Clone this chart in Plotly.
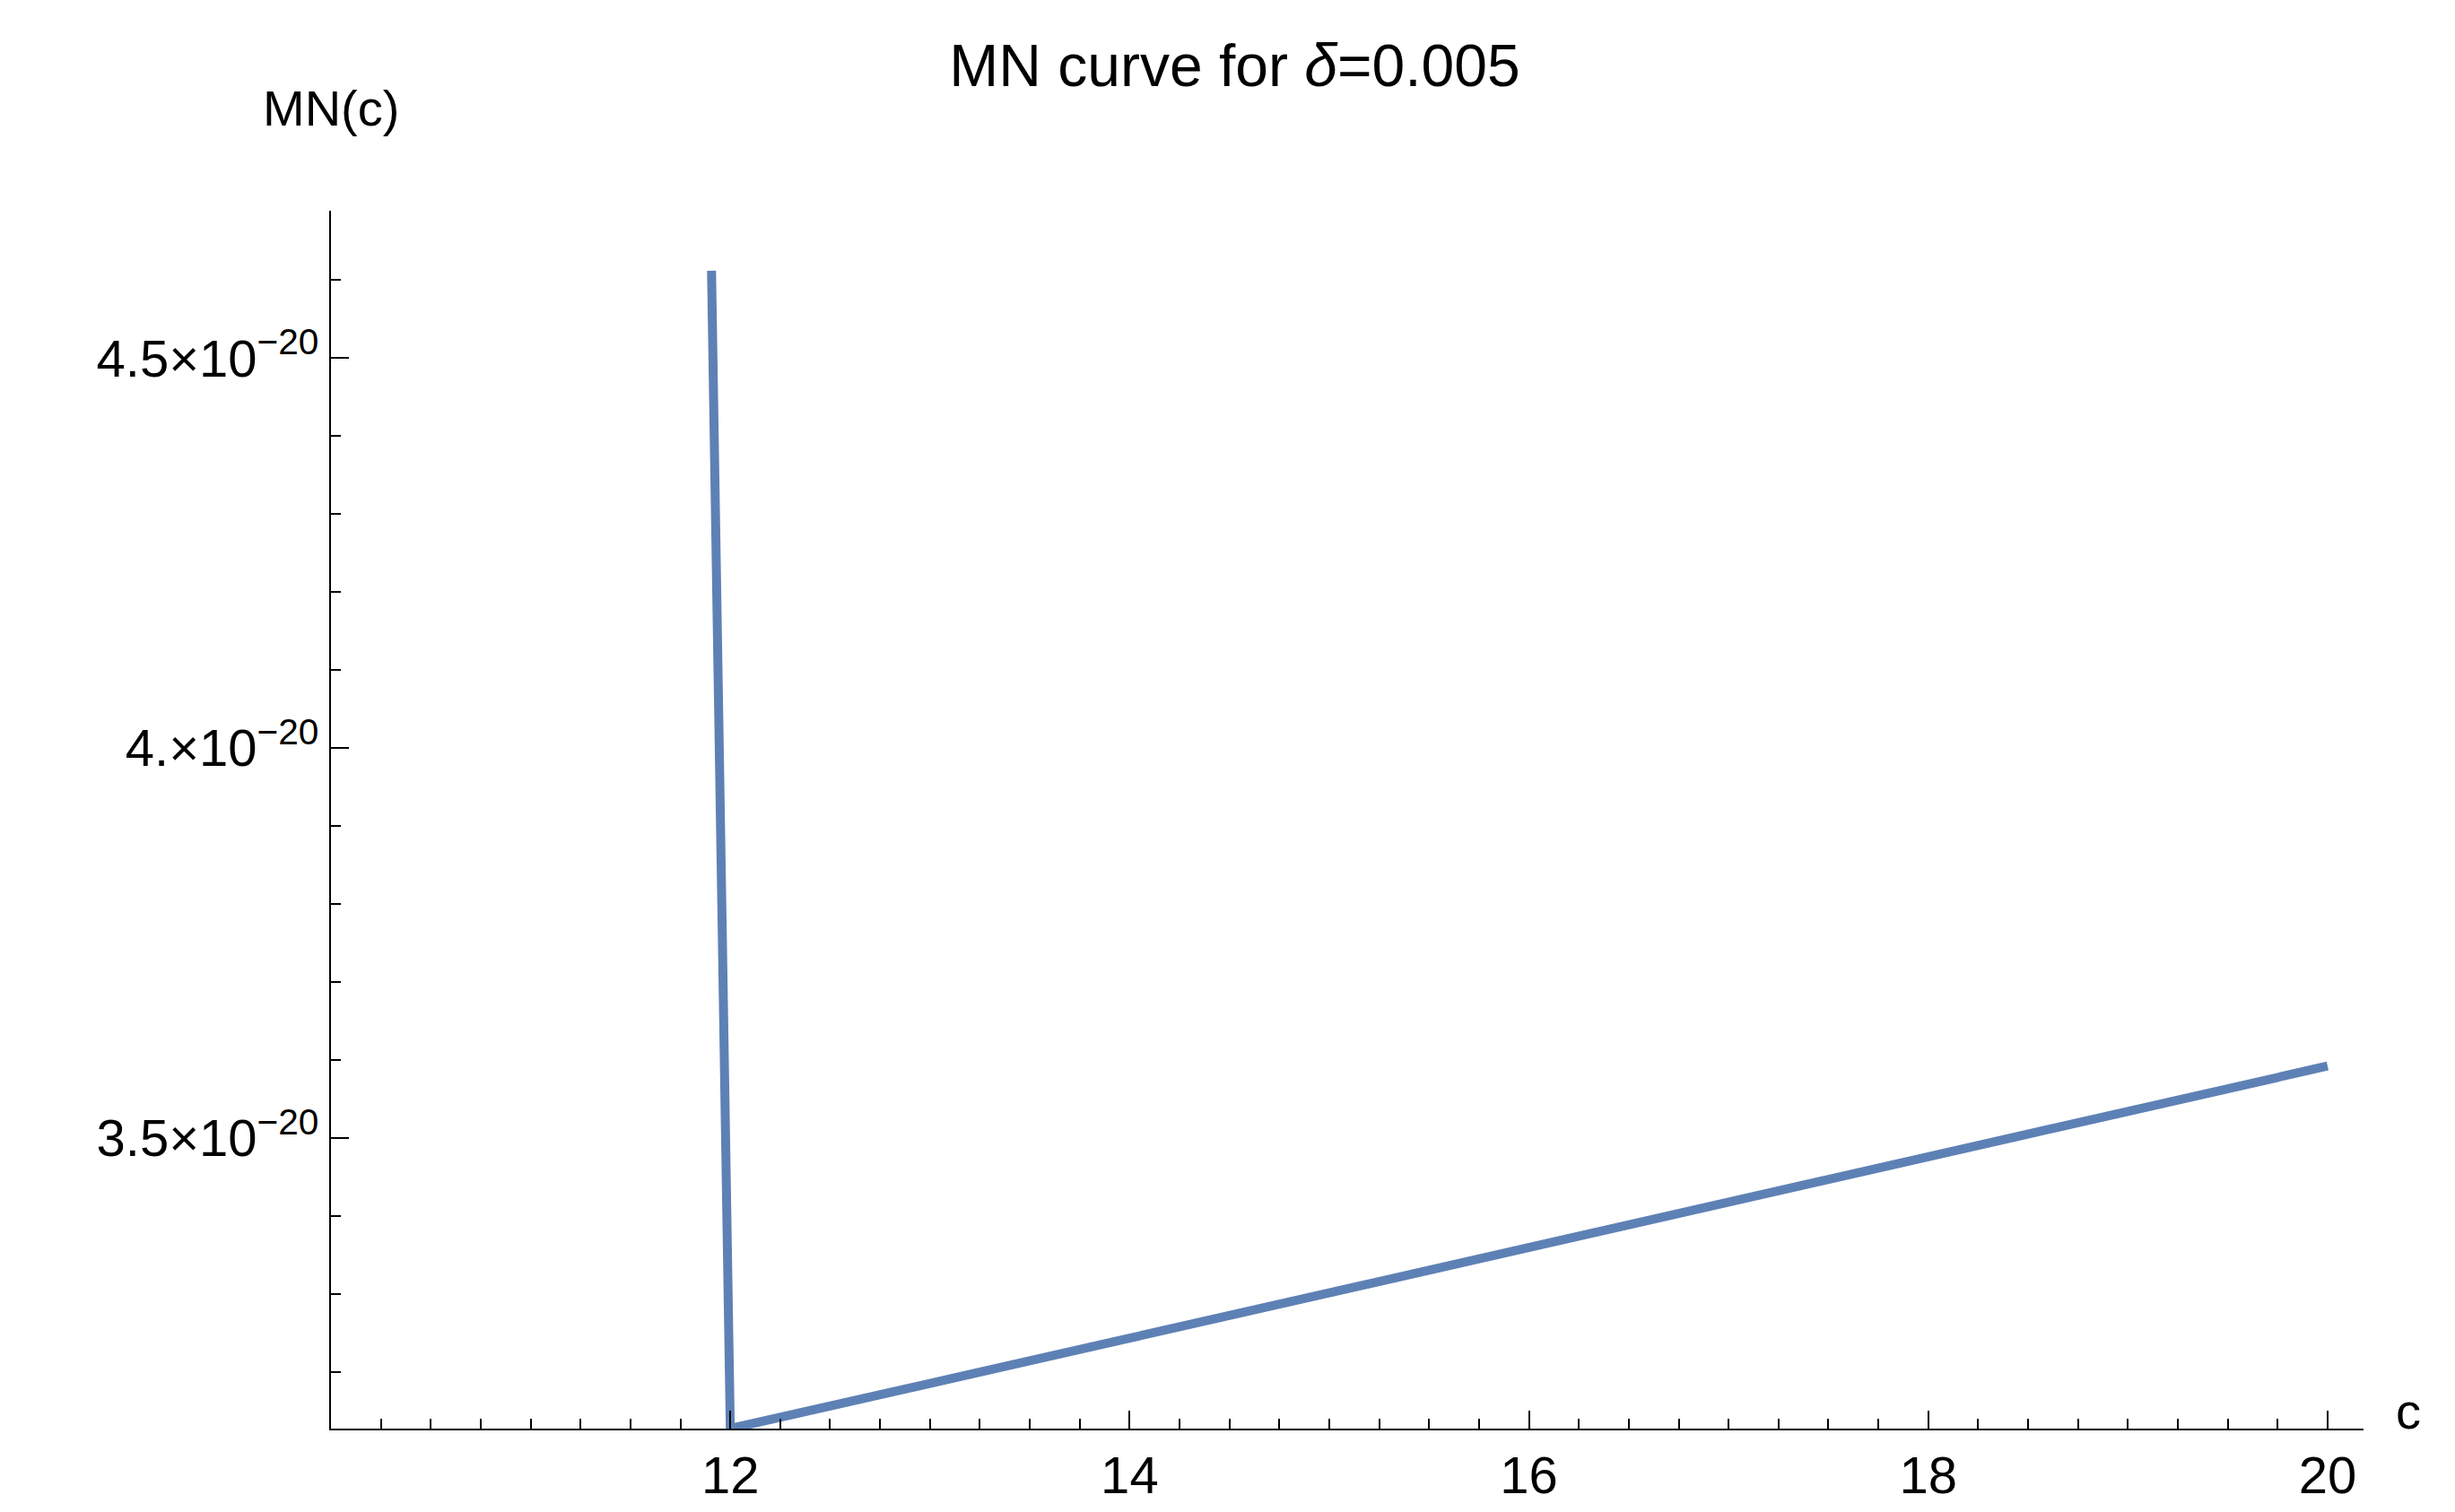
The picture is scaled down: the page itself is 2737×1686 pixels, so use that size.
import plotly.graph_objects as go

# values
c_vals = [11.906, 12.0, 14.0, 16.0, 18.0, 20.0]
mn_vals = [4.612e-20, 3.127e-20, 3.243e-20, 3.360e-20, 3.476e-20, 3.592e-20]
y_ticks = [3.5e-20, 4.0e-20, 4.5e-20]
y_labels = ["3.5×10<sup>−20</sup>", "4.×10<sup>−20</sup>", "4.5×10<sup>−20</sup>"]
x_ticks = [12, 14, 16, 18, 20]

FONT = "Liberation Sans"

fig = go.Figure(go.Scatter(x=c_vals, y=mn_vals, mode="lines",
                           line=dict(color="#5E81B5", width=10), showlegend=False))

fig.update_xaxes(range=[10, 20.18], tickvals=x_ticks, showline=True, linecolor="black",
                 linewidth=2, ticks="inside", ticklen=20, tickwidth=2, tickcolor="black",
                 minor=dict(dtick=0.25, tick0=10, ticks="inside", ticklen=11,
                            tickwidth=1.5, tickcolor="black"),
                 showgrid=False, zeroline=False, tickfont=dict(size=58, color="black"))
fig.update_yaxes(range=[3.127e-20, 4.689e-20], tickvals=y_ticks, ticktext=y_labels,
                 showline=True, linecolor="black", linewidth=2, ticks="inside",
                 ticklen=20, tickwidth=2, tickcolor="black",
                 minor=dict(dtick=0.1e-20, tick0=3.0e-20, ticks="inside", ticklen=11,
                            tickwidth=1.5, tickcolor="black"),
                 showgrid=False, zeroline=False, tickfont=dict(size=58, color="black"))

fig.add_annotation(x=0, y=1.06, xref="paper", yref="paper", text="MN(c)",
                   showarrow=False, xanchor="center", yanchor="bottom",
                   font=dict(size=56, color="black", family=FONT))
fig.add_annotation(x=1.015, y=-0.01, xref="paper", yref="paper", text="c",
                   showarrow=False, xanchor="left", yanchor="bottom",
                   font=dict(size=56, color="black", family=FONT))

fig.update_layout(
    title=dict(text="MN curve for <i>δ</i>=0.005", x=0.5, y=0.975, xanchor="center",
               font=dict(size=66, color="black", family=FONT)),
    width=2737, height=1686, plot_bgcolor="white", paper_bgcolor="white",
    font=dict(family=FONT),
    margin=dict(l=361, r=110, t=227, b=101))

fig.write_html("out.html")
